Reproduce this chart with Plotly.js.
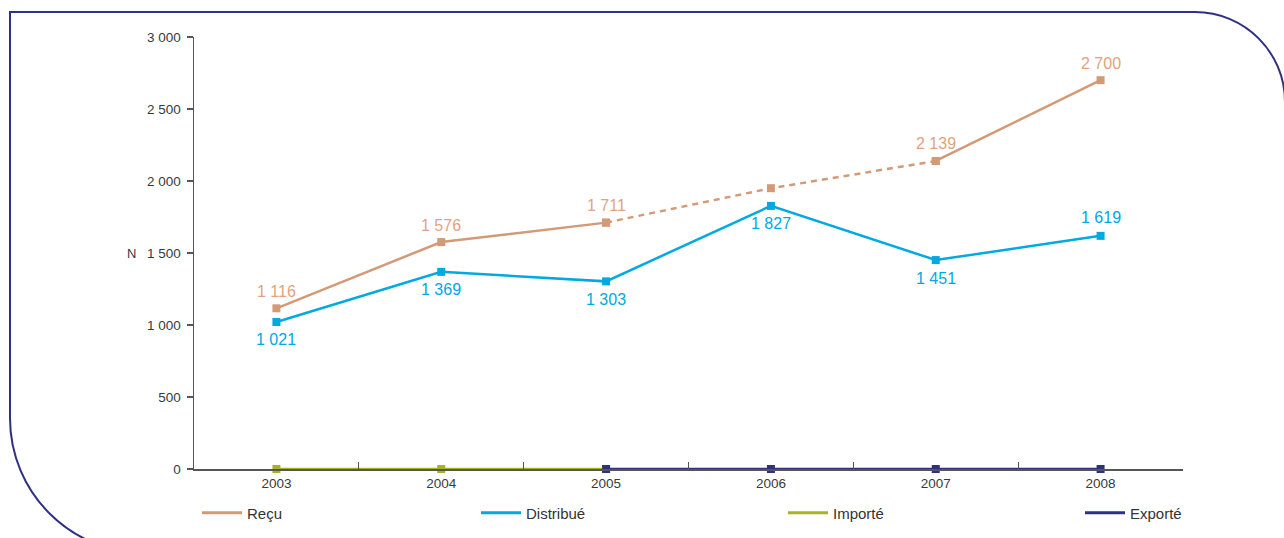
<!DOCTYPE html>
<html><head><meta charset="utf-8">
<script src="https://cdn.plot.ly/plotly-3.0.1.min.js"></script>
<style>html,body{margin:0;padding:0;background:#fff}#chart{width:1284px;height:538px}</style>
</head><body><div id="chart"></div>
<script>
const years = ['2003','2004','2005','2006','2007','2008'];
const recuSolid = [1116, 1576, 1711, null, 2139, 2700];
const recuDashed = [null, null, 1711, 1950, 2139, null];
const recuLabels = ['1 116','1 576','1 711','','2 139','2 700'];
const distribue = [1021, 1369, 1303, 1827, 1451, 1619];
const distribueLabels = ['1 021','1 369','1 303','1 827','1 451','1 619'];
const distribueAbove = [false, false, false, false, false, true];
const importe = [0, 0, 0, null, null, null];
const exporte = [null, null, 0, 0, 0, 0];
const yTicks = [0, 500, 1000, 1500, 2000, 2500, 3000];
const yTickText = ['0','500','1 000','1 500','2 000','2 500','3 000'];

const cRecu = '#d39a78', cRecuTxt = '#e3a27f';
const cDist = '#00a9e0';
const cImp = '#a9b31f';
const cExp = '#2e3182';
const FONT = 'Liberation Sans, Arial, sans-serif';

// plot area in pixels
const L = 194, R = 1183, T = 37, B = 469, W = 1284, H = 538;
const px = x => (x - L) / (R - L);
const py = y => (B - y) / (B - T);
function P(x, y){ return px(x).toFixed(5) + ',' + py(y).toFixed(5); }
const k = 0.5523;
const r1 = 135, c1x = 145, c1y = 418;
const r2 = 90, c2x = 1195, c2y = 102;
const borderPath =
  'M' + P(c1x, c1y + r1) +
  ' C' + P(c1x - k*r1, c1y + r1) + ' ' + P(10, c1y + k*r1) + ' ' + P(10, c1y) +
  ' L' + P(10, 12) + ' L' + P(c2x, 12) +
  ' C' + P(c2x + k*r2, 12) + ' ' + P(c2x + r2, c2y - k*r2) + ' ' + P(c2x + r2, c2y) +
  ' L' + P(c2x + r2, 620);

const mk = c => ({symbol: 'square', size: 8, color: c});
const traces = [
  {x: years, y: recuDashed, mode: 'lines+markers', line: {color: cRecu, width: 2.5, dash: '6px,5px'}, marker: mk(cRecu), showlegend: false, cliponaxis: false, hoverinfo: 'skip'},
  {x: years, y: recuSolid, mode: 'lines+markers', line: {color: cRecu, width: 2.5}, marker: mk(cRecu), showlegend: false, cliponaxis: false},
  {x: years, y: distribue, mode: 'lines+markers', line: {color: cDist, width: 2.5}, marker: mk(cDist), showlegend: false, cliponaxis: false},
  {x: years, y: importe, mode: 'lines+markers', line: {color: cImp, width: 2.5}, marker: mk(cImp), showlegend: false, cliponaxis: false},
  {x: years, y: exporte, mode: 'lines+markers', line: {color: cExp, width: 2.5}, marker: mk(cExp), showlegend: false, cliponaxis: false},
  // legend entries
  {x: [null], y: [null], mode: 'lines', name: 'Reçu', line: {color: cRecu, width: 3}, legend: 'legend'},
  {x: [null], y: [null], mode: 'lines', name: 'Distribué', line: {color: cDist, width: 3}, legend: 'legend2'},
  {x: [null], y: [null], mode: 'lines', name: 'Importé', line: {color: cImp, width: 3}, legend: 'legend3'},
  {x: [null], y: [null], mode: 'lines', name: 'Exporté', line: {color: cExp, width: 3}, legend: 'legend4'}
];

const annotations = [{xref: 'paper', yref: 'paper', x: px(131), y: py(253), text: 'N', showarrow: false,
  font: {family: FONT, size: 13, color: '#3a3a3a'}, xanchor: 'center', yanchor: 'middle'}];
years.forEach((yr, i) => {
  if (recuLabels[i]) annotations.push({xref: 'x', yref: 'y', x: i, y: recuSolid[i] != null ? recuSolid[i] : recuDashed[i], text: recuLabels[i],
    showarrow: false, yshift: 17, xanchor: 'center', yanchor: 'middle', font: {family: FONT, size: 16, color: cRecuTxt}});
  annotations.push({xref: 'x', yref: 'y', x: i, y: distribue[i], text: distribueLabels[i], showarrow: false,
    yshift: distribueAbove[i] ? 18 : -18, xanchor: 'center', yanchor: 'middle', font: {family: FONT, size: 16, color: cDist}});
});

const legBase = () => ({orientation: 'h', yanchor: 'middle', xanchor: 'left', yref: 'container', xref: 'container',
  y: (H - 513) / H, bgcolor: 'rgba(0,0,0,0)', itemwidth: 40, font: {family: FONT, size: 15, color: '#333'}});
const layout = {
  width: W, height: H,
  margin: {l: L, r: W - R, t: T, b: H - B, pad: 0},
  paper_bgcolor: '#fff', plot_bgcolor: '#fff',
  font: {family: FONT, size: 13, color: '#3a3a3a'},
  xaxis: {type: 'category', range: [-0.5, 5.5], showgrid: false, zeroline: false, showline: true,
    linecolor: '#555', linewidth: 1.5, ticks: 'inside', ticklen: 7, tickwidth: 1.2, tickcolor: '#555',
    tickson: 'boundaries', ticklabelstandoff: 1, tickfont: {family: FONT, size: 13.5, color: '#3a3a3a'}, fixedrange: true},
  yaxis: {range: [0, 3000], tickvals: yTicks, ticktext: yTickText, showgrid: false, zeroline: false, showline: true,
    linecolor: '#555', linewidth: 1.5, ticks: 'outside', ticklen: 6, tickwidth: 1.2, tickcolor: '#555',
    ticklabelstandoff: 3, tickfont: {family: FONT, size: 13.5, color: '#3a3a3a'}, fixedrange: true},
  legend: Object.assign(legBase(), {x: 197 / W}),
  legend2: Object.assign(legBase(), {x: 476 / W}),
  legend3: Object.assign(legBase(), {x: 783 / W}),
  legend4: Object.assign(legBase(), {x: 1080 / W}),
  shapes: [{type: 'path', xref: 'paper', yref: 'paper', path: borderPath, line: {color: cExp, width: 2}, fillcolor: 'rgba(0,0,0,0)'}],
  annotations: annotations
};
Plotly.newPlot('chart', traces, layout, {displayModeBar: false, staticPlot: true});
</script></body></html>
